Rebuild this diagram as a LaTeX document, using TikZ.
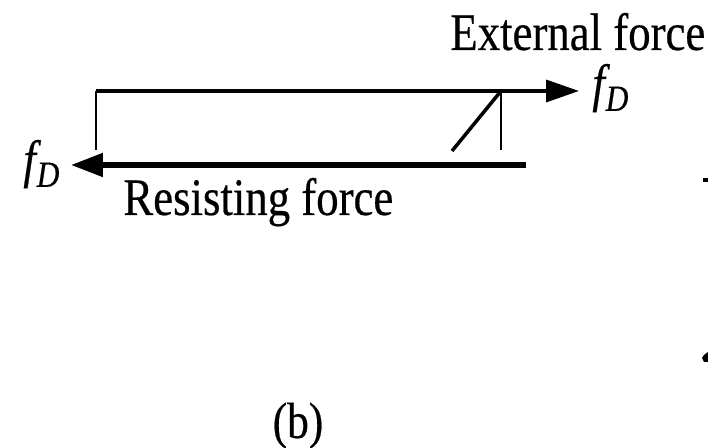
\documentclass[tikz,border=0pt]{standalone}
\usepackage{fontspec}
\setmainfont[FakeStretch=0.85, FakeBold=0.4]{Liberation Serif}
\usetikzlibrary{arrows.meta}
\newcommand{\forcelabel}{\textit{f}\kern-2.4pt\raisebox{-5.6pt}{\fontsize{21}{21}\selectfont\textit{D}}}
\tikzset{
    label/.style={inner sep=0pt, font=\fontsize{30}{32}\selectfont},
    thinline/.style={line width=1.6pt, black},
    topline/.style={-{Triangle[length=0.66cm, width=0.44cm]}, line width=2pt, black},
    bottomline/.style={-{Triangle[length=0.64cm, width=0.46cm]}, line width=2.9pt, black}
}

\begin{document}
\begin{tikzpicture}[x=0.02cm, y=-0.02cm]
        \useasboundingbox (0,0) rectangle (708,448);
        % Define labels
        \node [label, anchor=base west] (external) at (450,50) {External force};
        \node [label, anchor=base west] (resisting) at (123,215) {Resisting force};
        \node [label, anchor=base west] (rightforce) at (592,101) {\forcelabel};
        \node [label, anchor=base west] (leftforce) at (23,177) {\forcelabel};
        \node [label, anchor=base, font=\fontsize{29}{30}\selectfont] (caption) at (298,438) {(b)};

        % Define corners of the frame
        \coordinate (corner) at (96,91);
        \coordinate (frameend) at (96,150);
        \coordinate (toptip) at (579,91);
        \coordinate (hinge) at (501,91);
        \coordinate (brace) at (501,150);
        \coordinate (slant) at (452,151);
        \coordinate (tailend) at (526,165);
        \coordinate (lefttip) at (71,165);

        \draw [thinline] (frameend) -- (corner);
        \draw [topline] (corner) -- (toptip);
        \draw [line width=1.3pt] (hinge) -- (brace);
        \draw [line width=2pt] (hinge) -- (slant);
        \draw [bottomline] (tailend) -- (lefttip);

        % Marks at the right edge
        \fill (703,178) rectangle (708,182);
        \fill (708,352) -- (704,355) -- (702,358) -- (704,362) -- (708,362) -- cycle;
    \end{tikzpicture}
\end{document}
